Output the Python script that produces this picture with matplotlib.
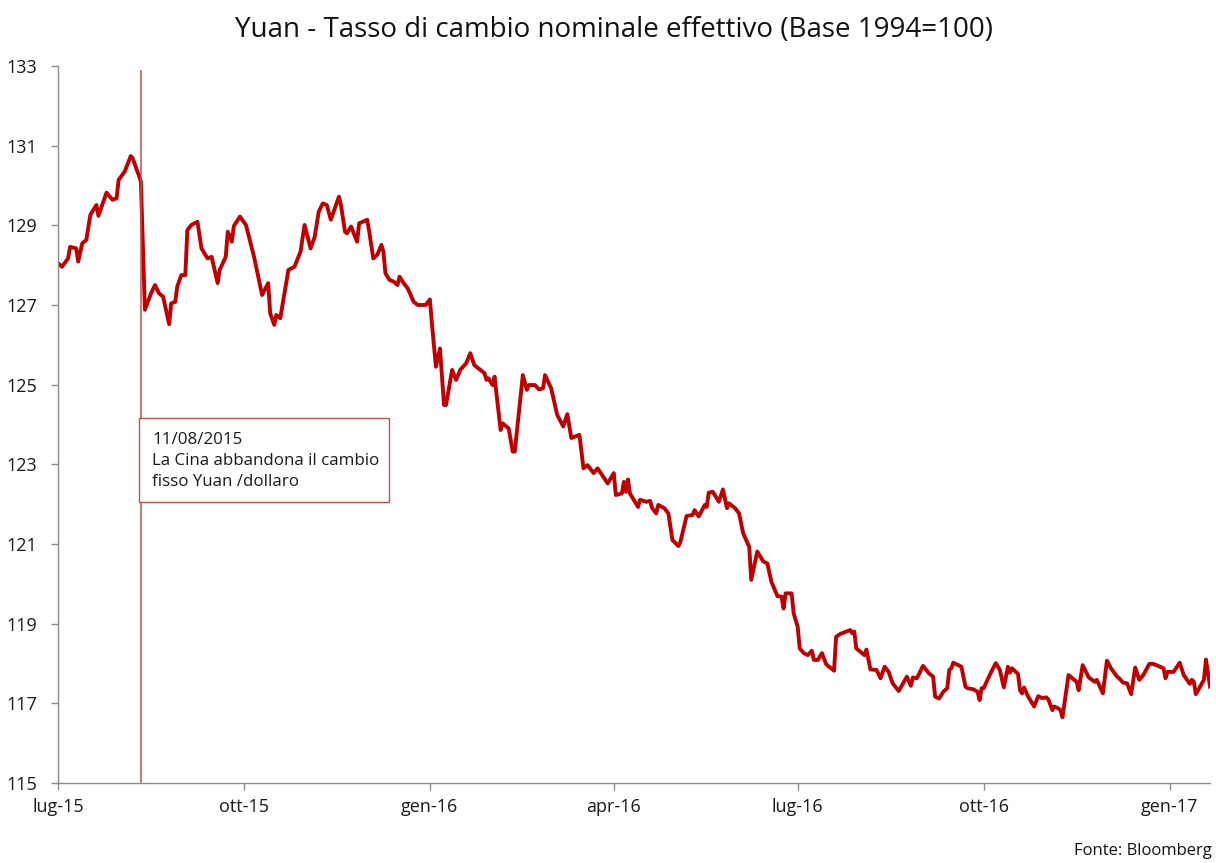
'''
Yuan - nominal effective exchange rate (1994 = 100), Jul 2015 - Jan 2017
'''

import pandas as pd
import matplotlib
matplotlib.use('Agg')
import matplotlib.pyplot as plt
from matplotlib.patches import Rectangle

# start of the series and day offsets of each observation
start = '2015-07-01'
days = [0, 2, 5, 6, 9, 10, 12, 14, 16, 19, 20, 24, 27, 29, 30, 33, 36, 37, 39, 40,
        41, 43, 46, 48, 50, 52, 55, 56, 58, 59, 61, 63, 64, 66, 69, 71, 74, 76, 79, 80,
        83, 84, 86, 87, 90, 93, 97, 101, 104, 105, 107, 108, 110, 114, 117, 120, 122, 125, 127, 129,
        131, 133, 135, 139, 140, 142, 143, 145, 148, 149, 153, 154, 156, 158, 160, 161, 162, 164, 166, 168,
        169, 171, 173, 176, 178, 182, 184, 185, 187, 189, 191, 192, 195, 197, 199, 202, 204, 206, 208, 211,
        212, 213, 215, 216, 219, 220, 223, 225, 226, 230, 232, 233, 236, 238, 240, 241, 244, 247, 250, 252,
        254, 258, 260, 262, 265, 267, 272, 275, 276, 279, 280, 281, 282, 283, 287, 288, 291, 293, 294, 296,
        297, 300, 302, 304, 307, 308, 311, 314, 315, 317, 320, 321, 322, 324, 327, 329, 331, 332, 335, 337,
        339, 342, 343, 346, 349, 351, 353, 356, 358, 359, 360, 363, 364, 366, 367, 369, 371, 373, 374, 376,
        378, 380, 381, 384, 385, 387, 390, 392, 393, 394, 395, 399, 400, 402, 405, 407, 409, 411, 413, 416,
        420, 422, 423, 425, 427, 428, 431, 433, 434, 436, 438, 440, 441, 442, 443, 447, 449, 450, 453, 455,
        456, 457, 458, 461, 464, 466, 468, 470, 471, 472, 475, 476, 477, 478, 480, 483, 485, 487, 489, 490,
        492, 493, 495, 496, 497, 500, 504, 505, 507, 510, 513, 514, 517, 519, 521, 524, 525, 527, 529, 531,
        533, 535, 537, 540, 542, 547, 548, 549, 552, 555, 557, 560, 561, 562, 563, 567, 568, 570]

rate = [128.05, 127.96, 128.17, 128.46, 128.42, 128.09, 128.55, 128.63, 129.26, 129.51,
        129.24, 129.82, 129.64, 129.68, 130.14, 130.35, 130.74, 130.68, 130.39, 130.26,
        130.10, 126.88, 127.29, 127.50, 127.29, 127.21, 126.52, 127.04, 127.08, 127.46,
        127.75, 127.75, 128.88, 129.01, 129.09, 128.42, 128.17, 128.21, 127.55, 127.88,
        128.21, 128.84, 128.59, 128.98, 129.22, 129.01, 128.21, 127.25, 127.55, 126.79,
        126.50, 126.75, 126.67, 127.88, 127.96, 128.34, 129.01, 128.42, 128.71, 129.34,
        129.55, 129.51, 129.14, 129.72, 129.51, 128.84, 128.80, 128.97, 128.59, 129.05,
        129.14, 128.84, 128.17, 128.26, 128.51, 128.34, 127.80, 127.63, 127.59, 127.50,
        127.71, 127.55, 127.42, 127.08, 127.00, 127.00, 127.14, 126.54, 125.45, 125.91,
        124.49, 124.49, 125.37, 125.12, 125.37, 125.54, 125.79, 125.49, 125.41, 125.29,
        125.12, 125.16, 124.99, 125.20, 123.86, 124.03, 123.90, 123.32, 123.32, 125.24,
        124.87, 124.99, 124.99, 124.88, 124.91, 125.24, 124.91, 124.24, 123.95, 124.26,
        123.66, 123.74, 122.90, 122.98, 122.78, 122.90, 122.52, 122.78, 122.23, 122.27,
        122.56, 122.31, 122.62, 122.27, 121.93, 122.11, 122.06, 122.08, 121.90, 121.77,
        121.98, 121.90, 121.77, 121.10, 120.95, 121.06, 121.70, 121.73, 121.85, 121.69,
        121.98, 121.93, 122.29, 122.31, 122.06, 122.37, 121.90, 122.02, 121.90, 121.77,
        121.27, 120.93, 120.10, 120.81, 120.56, 120.51, 120.05, 119.69, 119.68, 119.38,
        119.76, 119.76, 119.26, 118.92, 118.38, 118.26, 118.21, 118.32, 118.09, 118.09,
        118.26, 117.99, 117.94, 117.82, 118.67, 118.74, 118.80, 118.84, 118.76, 118.80,
        118.38, 118.21, 118.35, 117.85, 117.84, 117.63, 117.92, 117.79, 117.50, 117.31,
        117.67, 117.44, 117.65, 117.63, 117.84, 117.94, 117.75, 117.67, 117.17, 117.12,
        117.29, 117.38, 117.84, 117.88, 118.02, 117.92, 117.42, 117.38, 117.35, 117.29,
        117.08, 117.38, 117.38, 117.71, 118.01, 117.84, 117.40, 117.92, 117.77, 117.88,
        117.74, 117.33, 117.25, 117.40, 117.17, 116.92, 117.18, 117.13, 117.15, 117.10,
        116.83, 116.92, 116.87, 116.83, 116.65, 117.71, 117.54, 117.33, 117.96, 117.65,
        117.54, 117.59, 117.25, 118.07, 117.88, 117.67, 117.63, 117.52, 117.50, 117.23,
        117.90, 117.59, 117.71, 117.99, 117.99, 117.88, 117.63, 117.79, 117.79, 118.02,
        117.71, 117.49, 117.59, 117.54, 117.23, 117.59, 118.10, 117.42]

tick_dates = ['2015-07-01', '2015-10-01', '2016-01-01', '2016-04-01',
              '2016-07-01', '2016-10-01', '2017-01-01']
tick_labels = ['lug-15', 'ott-15', 'gen-16', 'apr-16', 'lug-16', 'ott-16', 'gen-17']

event_date = '2015-08-11'
event_text = '11/08/2015\nLa Cina abbandona il cambio\nfisso Yuan /dollaro'

plt.rcParams['font.family'] = ['Open Sans', 'DejaVu Sans']

dates = pd.to_datetime(start) + pd.to_timedelta(days, unit='D')

fig = plt.figure(figsize=(12.16, 8.63), dpi=100)
ax = fig.add_axes([58 / 1216, 1 - 783 / 863, (1210 - 58) / 1216, (783 - 66) / 863])

ax.plot(dates, rate, color='#C00000', linewidth=2.8, solid_joinstyle='round')

# devaluation marker
ax.vlines(pd.to_datetime(event_date), 115, 132.9, color='#C0504D', linewidth=1.1)

ax.set_xlim(pd.to_datetime(start), pd.to_datetime(start) + pd.Timedelta(days=570))
ax.set_ylim(115, 133)
ax.set_yticks(range(115, 134, 2))
ax.set_xticks(pd.to_datetime(tick_dates))
ax.set_xticklabels(tick_labels)

for side in ['top', 'right']:
    ax.spines[side].set_visible(False)
for side in ['left', 'bottom']:
    ax.spines[side].set_color('#8C8C8C')
    ax.spines[side].set_linewidth(1.0)
ax.tick_params(axis='both', colors='#8C8C8C', length=5, width=1.0,
               labelsize=13, labelcolor='#1A1A1A')
ax.tick_params(axis='x', pad=6)
ax.tick_params(axis='y', pad=10)

# annotation box next to the vertical line
ax.add_patch(Rectangle((0.0703, 0.392), 0.217, 0.117, transform=ax.transAxes,
                       facecolor='white', edgecolor='#C0504D', linewidth=1.0, zorder=3))
ax.text(0.0816, 0.490, event_text, transform=ax.transAxes, fontsize=12.2,
        color='#1A1A1A', va='top', ha='left', linespacing=1.45, zorder=4)

fig.text(0.505, 1 - 30 / 863, 'Yuan - Tasso di cambio nominale effettivo (Base 1994=100)',
         ha='center', va='center', fontsize=20, color='#111111')
fig.text(1 - 4 / 1216, 1 - 851 / 863, 'Fonte: Bloomberg', ha='right', va='center',
         fontsize=12, color='#111111')

fig.savefig('out.png', dpi=100)
